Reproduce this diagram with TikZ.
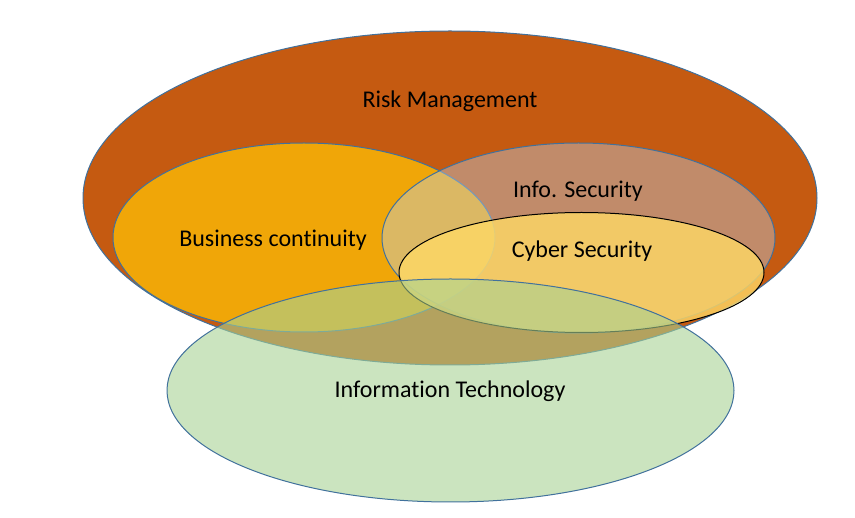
\documentclass[tikz,border=0pt]{standalone}
\usepackage{fontspec}
\setmainfont{Carlito}[Ligatures=NoCommon]
\usepackage{tikz}
\usetikzlibrary{shapes.geometric}

\definecolor{edgeblue}{RGB}{65,113,156}
\definecolor{riskorange}{RGB}{197,90,17}
\definecolor{contgold}{RGB}{240,166,8}
\definecolor{infoblue}{RGB}{188,213,240}
\definecolor{cyberyellow}{RGB}{255,217,102}
\definecolor{itgreen}{RGB}{168,210,148}

\begin{document}
\begin{tikzpicture}[x=1pt,y=-1pt,every node/.style = {font=\fontsize{24}{28}\selectfont}]

\tikzstyle{set_area} = [ellipse, draw=edgeblue, line width=1pt, inner sep=0pt]
\tikzstyle{set_label} = [text=black, inner sep=0pt]

\useasboundingbox (0,0) rectangle (855,518);

% the sets, back to front
\node[set_area, fill=riskorange, minimum width=734pt, minimum height=334pt] (risk) at (450,198) {};
\node[set_area, fill=contgold, minimum width=382pt, minimum height=189pt] (cont) at (304,237.5) {};
\node[set_area, fill=infoblue, fill opacity=0.4, minimum width=393pt, minimum height=190pt] (info) at (578.5,238) {};
\node[set_area, draw=black, fill=cyberyellow, fill opacity=0.8, minimum width=365pt, minimum height=120pt] (cyber) at (581.5,272.5) {};
\node[set_area, fill=itgreen, fill opacity=0.6, minimum width=567pt, minimum height=223pt] (it) at (450.5,390.5) {};

% labels
\node[set_label] (risk_text) at (450,101.5) {Risk Management};
\node[set_label] (cont_text) at (273,240.5) {Business continuity};
\node[set_label] (info_text) at (578,191.5) {Info. Security};
\node[set_label] (cyber_text) at (582,251.5) {Cyber Security};
\node[set_label] (it_text) at (450,391.5) {Information Technology};
\end{tikzpicture}
\end{document}
